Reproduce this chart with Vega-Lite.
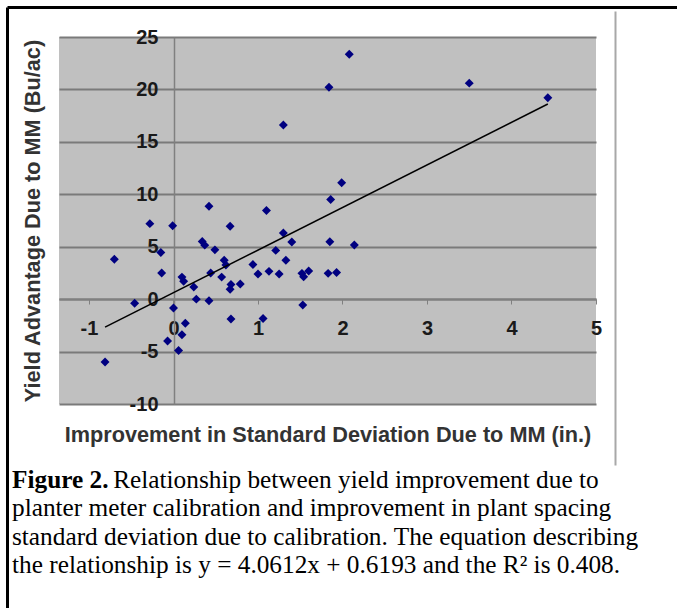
{
  "$schema": "https://vega.github.io/schema/vega-lite/v6.json",
  "width": 537,
  "height": 367,
  "autosize": "none",
  "padding": {"left": 59, "top": 37, "right": 81, "bottom": 204},
  "background": "white",
  "config": {
    "view": {"fill": "#c0c0c0", "stroke": null},
    "axis": {"labelFont": "Liberation Sans", "titleFont": "Liberation Sans"}
  },
  "datasets": {
    "points": [
      {"x": -0.81, "y": -6.0}, {"x": -0.70, "y": 3.8}, {"x": -0.46, "y": -0.4}, {"x": -0.28, "y": 7.2},
      {"x": -0.15, "y": 4.45}, {"x": -0.14, "y": 2.5}, {"x": -0.07, "y": -4.0}, {"x": 0.0, "y": -0.85},
      {"x": -0.01, "y": 7.0}, {"x": 0.06, "y": -4.9}, {"x": 0.10, "y": -3.4}, {"x": 0.14, "y": -2.3},
      {"x": 0.10, "y": 2.1}, {"x": 0.12, "y": 1.7}, {"x": 0.24, "y": 1.15}, {"x": 0.27, "y": 0.0},
      {"x": 0.42, "y": -0.15}, {"x": 0.34, "y": 5.5}, {"x": 0.37, "y": 5.15}, {"x": 0.42, "y": 8.85},
      {"x": 0.44, "y": 2.5}, {"x": 0.49, "y": 4.7}, {"x": 0.57, "y": 2.1}, {"x": 0.60, "y": 3.7},
      {"x": 0.62, "y": 3.25}, {"x": 0.67, "y": 0.95}, {"x": 0.68, "y": 1.4}, {"x": 0.79, "y": 1.45},
      {"x": 0.67, "y": 6.95}, {"x": 0.68, "y": -1.9}, {"x": 0.94, "y": 3.3}, {"x": 1.0, "y": 2.4},
      {"x": 1.06, "y": -1.85}, {"x": 1.10, "y": 8.45}, {"x": 1.13, "y": 2.65}, {"x": 1.21, "y": 4.65},
      {"x": 1.25, "y": 2.4}, {"x": 1.30, "y": 16.6}, {"x": 1.30, "y": 6.3}, {"x": 1.33, "y": 3.7},
      {"x": 1.40, "y": 5.45}, {"x": 1.52, "y": 2.46}, {"x": 1.54, "y": 2.14}, {"x": 1.60, "y": 2.68},
      {"x": 1.53, "y": -0.55}, {"x": 1.84, "y": 20.2}, {"x": 1.86, "y": 9.5}, {"x": 1.85, "y": 5.47},
      {"x": 1.83, "y": 2.46}, {"x": 1.93, "y": 2.55}, {"x": 1.99, "y": 11.1}, {"x": 2.08, "y": 23.35},
      {"x": 2.14, "y": 5.16}, {"x": 3.50, "y": 20.6}, {"x": 4.43, "y": 19.2}
    ],
    "trend": [
      {"x": -0.81, "y": -2.67},
      {"x": 4.43, "y": 18.61}
    ]
  },
  "title": {
    "text": "Figure 2.",
    "subtitle": [
      "\u200b\u00a0\u00a0\u00a0\u00a0\u00a0\u00a0\u00a0\u00a0\u00a0\u00a0\u00a0\u00a0\u00a0\u00a0\u00a0\u00a0Relationship between yield improvement due to",
      "planter meter calibration and improvement in plant spacing",
      "standard deviation due to calibration. The equation describing",
      "the relationship is y = 4.0612x + 0.6193 and the R² is 0.408."
    ],
    "orient": "bottom",
    "anchor": "start",
    "frame": "group",
    "dx": -47,
    "offset": -142,
    "font": "Liberation Serif",
    "fontSize": 25.3,
    "fontWeight": "bold",
    "color": "black",
    "subtitleFont": "Liberation Serif",
    "subtitleFontSize": 25.3,
    "subtitleFontWeight": "normal",
    "subtitleColor": "black",
    "subtitleLineHeight": 28.5,
    "subtitlePadding": -25.3
  },
  "resolve": {"axis": {"x": "independent", "y": "independent"}},
  "layer": [
    {
      "data": {"name": "points"},
      "mark": {"type": "point", "shape": "diamond", "filled": true, "size": 80, "color": "#000080", "opacity": 1},
      "encoding": {
        "x": {
          "field": "x", "type": "quantitative",
          "scale": {"domain": [-1.355, 5], "nice": false, "zero": false},
          "axis": {
            "orient": "bottom", "offset": -105, "values": [-1, 0, 1, 2, 3, 4, 5],
            "labelExpr": "datum.value + ''",
            "title": "Improvement in Standard Deviation Due to MM (in.)",
            "titleY": 135, "titleBaseline": "middle", "titleFontSize": 21.7, "titleFontWeight": "bold", "titleColor": "#333333",
            "labelFontSize": 20, "labelFontWeight": "bold", "labelColor": "#1a1a1a", "labelPadding": 14,
            "labelOverlap": false, "labelFlush": false,
            "domainColor": "#808080", "domainWidth": 2, "tickColor": "#808080", "tickSize": 5, "grid": false
          }
        },
        "y": {
          "field": "y", "type": "quantitative",
          "scale": {"domain": [-10, 25], "nice": false, "zero": false},
          "axis": {
            "orient": "left", "offset": -115, "values": [-10, -5, 0, 5, 10, 15, 20, 25],
            "labelExpr": "datum.value + ''",
            "grid": true, "gridColor": "#7a7a7a", "gridWidth": 2, "gridOpacity": 1,
            "domainColor": "#808080", "domainWidth": 1.5, "ticks": false, "labelPadding": 16,
            "labelFontSize": 20, "labelFontWeight": "bold", "labelColor": "#1a1a1a", "labelOverlap": false,
            "title": "Yield Advantage Due to MM (Bu/ac)",
            "titleX": -142, "titleBaseline": "middle", "titleFontSize": 21.7, "titleFontWeight": "bold", "titleColor": "#333333"
          }
        }
      }
    },
    {
      "data": {"name": "trend"},
      "mark": {"type": "line", "color": "black", "strokeWidth": 1.5},
      "encoding": {
        "x": {
          "field": "x", "type": "quantitative",
          "scale": {"domain": [-1.355, 5], "nice": false, "zero": false},
          "axis": {
            "orient": "top", "offset": 30, "values": [-1.355], "tickOffset": -52, "tickSize": -601,
            "tickColor": "black", "tickWidth": 3, "domainColor": "black", "domainWidth": 3,
            "labels": false, "grid": false, "title": null
          }
        },
        "y": {
          "field": "y", "type": "quantitative",
          "scale": {"domain": [-10, 25], "nice": false, "zero": false},
          "axis": {
            "orient": "left", "offset": 52, "values": [25], "tickOffset": -30, "tickSize": -670,
            "tickColor": "black", "tickWidth": 3, "domainColor": "black", "domainWidth": 3,
            "labels": false, "grid": false, "title": null
          }
        }
      }
    },
    {
      "data": {"name": "trend"},
      "mark": {"type": "rule", "opacity": 0},
      "encoding": {
        "x": {
          "field": "x", "type": "quantitative",
          "scale": {"domain": [-1.355, 5], "nice": false, "zero": false},
          "axis": {
            "orient": "top", "offset": 26, "values": [5], "tickOffset": 19, "tickSize": -454,
            "tickColor": "#a8a8a8", "tickWidth": 2, "domain": false,
            "labels": false, "grid": false, "title": null
          }
        }
      }
    }
  ]
}
